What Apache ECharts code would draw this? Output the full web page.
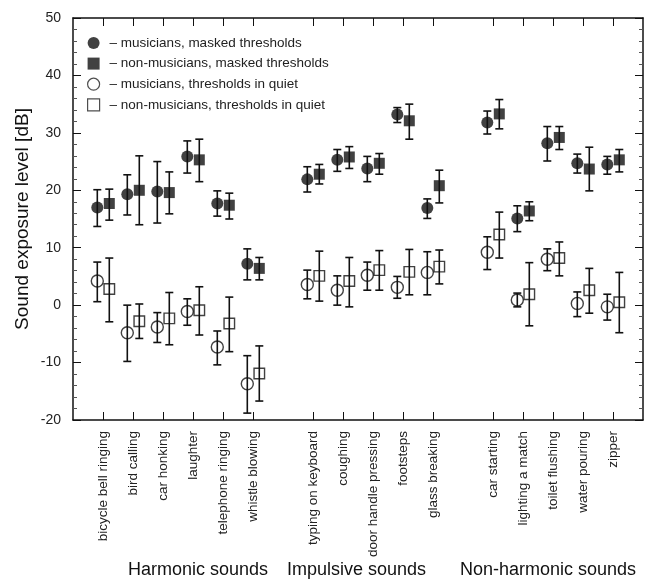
<!DOCTYPE html>
<html>
<head>
<meta charset="utf-8">
<script src="https://cdn.jsdelivr.net/npm/echarts@6/dist/echarts.min.js"></script>
<style>
  html, body { margin: 0; padding: 0; background: #fff; }
  #chart { width: 650px; height: 580px; }
</style>
</head>
<body>
<div id="chart"></div>
<script>
// sound categories, grouped
var groups = ['Harmonic sounds', 'Impulsive sounds', 'Non-harmonic sounds']
var groupSizes = [6, 5, 5]
var categories = [
  'bicycle bell ringing', 'bird calling', 'car honking', 'laughter', 'telephone ringing', 'whistle blowing',
  'typing on keyboard', 'coughing', 'door handle pressing', 'footsteps', 'glass breaking',
  'car starting', 'lighting a match', 'toilet flushing', 'water pouring', 'zipper'
]
var yTicks = [-20, -10, 0, 10, 20, 30, 40, 50]

// [mean, lower, upper] in dB
var musMasked = [
  [17.0, 13.7, 20.1], [19.3, 15.7, 22.7], [19.8, 14.3, 25.0], [25.9, 23.0, 28.6], [17.7, 15.5, 19.9], [7.2, 4.4, 9.8],
  [21.9, 19.7, 24.1], [25.3, 23.3, 27.1], [23.8, 21.5, 25.9], [33.2, 31.8, 34.4], [16.9, 15.1, 18.5],
  [31.8, 29.8, 33.8], [15.1, 12.8, 17.3], [28.2, 25.1, 31.1], [24.7, 23.0, 26.3], [24.5, 22.8, 25.9]
]
var nonMasked = [
  [17.7, 14.8, 20.2], [20.0, 14.0, 26.0], [19.6, 15.9, 23.2], [25.3, 21.5, 28.9], [17.4, 15.0, 19.5], [6.4, 4.4, 8.3],
  [22.8, 21.1, 24.5], [25.8, 23.8, 27.6], [24.7, 22.8, 26.4], [32.1, 28.9, 35.0], [20.8, 17.8, 23.5],
  [33.3, 30.7, 35.8], [16.4, 14.7, 18.0], [29.2, 27.1, 31.1], [23.7, 19.9, 27.5], [25.3, 23.2, 27.1]
]
var musQuiet = [
  [4.2, 0.6, 7.5], [-4.8, -9.8, 0.0], [-3.8, -6.5, -1.3], [-1.1, -3.5, 1.1], [-7.3, -10.4, -4.5], [-13.7, -18.8, -8.8],
  [3.6, 1.1, 6.1], [2.6, 0.0, 5.1], [5.2, 2.6, 7.5], [3.1, 1.2, 5.0], [5.7, 1.8, 9.3],
  [9.2, 6.2, 11.9], [0.9, -0.3, 2.1], [8.0, 6.0, 9.8], [0.3, -2.0, 2.3], [-0.3, -2.6, 1.9]
]
var nonQuiet = [
  [2.8, -2.9, 8.2], [-2.8, -5.8, 0.2], [-2.3, -6.9, 2.2], [-0.9, -5.2, 3.2], [-3.2, -8.1, 1.4], [-11.9, -16.7, -7.1],
  [5.1, 0.7, 9.4], [4.2, -0.3, 8.3], [6.1, 2.6, 9.5], [5.8, 1.8, 9.7], [6.7, 3.7, 9.6],
  [12.3, 8.2, 16.2], [1.9, -3.6, 7.4], [8.2, 5.1, 11.0], [2.6, -1.4, 6.4], [0.5, -4.8, 5.7]
]

// slot on the x axis: one empty slot between groups
var positions = []
var slot = 1
groupSizes.forEach(function(n) {
  for (var i = 0; i < n; i++) positions.push(slot++)
  slot++
})
var xMax = slot - 1

var font = 'Liberation Sans, Arial, sans-serif'
var ink = '#111'

function points(arr, shift) {
  return arr.map(function(d, i) { return [positions[i] + shift, d[0]] })
}
function bars(arr, shift) {
  return arr.map(function(d, i) { return [positions[i] + shift, d[1], d[2]] })
}

function errorSeries(name, arr, shift) {
  return {
    name: name,
    type: 'custom',
    z: 2,
    data: bars(arr, shift),
    encode: { x: 0, y: [1, 2] },
    renderItem: function(params, api) {
      var lo = api.coord([api.value(0), api.value(1)])
      var hi = api.coord([api.value(0), api.value(2)])
      var w = 4
      var st = { stroke: ink, lineWidth: 1.6 }
      return {
        type: 'group',
        children: [
          { type: 'line', shape: { x1: lo[0], y1: lo[1], x2: hi[0], y2: hi[1] }, style: st },
          { type: 'line', shape: { x1: lo[0] - w, y1: lo[1], x2: lo[0] + w, y2: lo[1] }, style: st },
          { type: 'line', shape: { x1: hi[0] - w, y1: hi[1], x2: hi[0] + w, y2: hi[1] }, style: st }
        ]
      }
    }
  }
}

var filled = { color: ink }
var open = { color: 'rgba(0,0,0,0)', borderColor: ink, borderWidth: 1.4 }
var names = [
  'musicians, masked thresholds',
  'non-musicians, masked thresholds',
  'musicians, thresholds in quiet',
  'non-musicians, thresholds in quiet'
]

function markSeries(name, arr, shift, symbol, size, style) {
  return {
    name: name,
    type: 'scatter',
    z: 3,
    symbol: symbol,
    symbolSize: size,
    itemStyle: style,
    data: points(arr, shift)
  }
}

var chart = echarts.init(document.getElementById('chart'))
var tickLine = { color: ink, width: 1 }
var frame = { onZero: false, lineStyle: { color: ink, width: 1.5 } }
var minor = { show: true, splitNumber: 5, length: 4, lineStyle: { color: '#555', width: 1 } }

chart.setOption({
  animation: false,
  textStyle: { fontFamily: font },
  grid: { left: 73, right: 7, top: 18, bottom: 160, outerBoundsMode: 'none' },
  legend: {
    orient: 'vertical',
    left: 87,
    top: 36,
    padding: 0,
    itemWidth: 12,
    itemHeight: 12,
    itemGap: 6.6,
    selectedMode: false,
    formatter: function(n) { return '\u2013 ' + n },
    textStyle: { fontSize: 13.5, color: '#222', padding: [0, 0, 0, 5] },
    data: [
      { name: names[0], icon: 'circle', itemStyle: filled },
      { name: names[1], icon: 'rect', itemStyle: filled },
      { name: names[2], icon: 'circle', itemStyle: { color: 'rgba(0,0,0,0)', borderColor: '#222', borderWidth: 1.2 } },
      { name: names[3], icon: 'rect', itemStyle: { color: 'rgba(0,0,0,0)', borderColor: '#222', borderWidth: 1.2 } }
    ]
  },
  xAxis: [
    {
      type: 'value', position: 'bottom', min: 0, max: xMax,
      splitLine: { show: false },
      axisLine: frame,
      axisTick: { inside: true, length: 8, customValues: positions, lineStyle: tickLine },
      axisLabel: {
        customValues: positions,
        rotate: 90,
        margin: 11,
        fontSize: 13.5,
        color: '#222',
        formatter: function(v) { return categories[positions.indexOf(Math.round(v))] || '' }
      }
    },
    {
      type: 'value', position: 'top', min: 0, max: xMax,
      splitLine: { show: false },
      axisLine: frame,
      axisTick: { inside: true, length: 8, customValues: positions, lineStyle: tickLine },
      axisLabel: { show: false }
    }
  ],
  yAxis: [
    {
      type: 'value', position: 'left', min: yTicks[0], max: yTicks[yTicks.length - 1], interval: 10,
      name: 'Sound exposure level [dB]',
      nameLocation: 'middle',
      nameGap: 41,
      nameMoveOverlap: false,
      nameTextStyle: { fontSize: 19, color: '#111' },
      splitLine: { show: false },
      axisLine: { show: true, onZero: false, lineStyle: frame.lineStyle },
      axisTick: { inside: true, length: 8, lineStyle: tickLine },
      minorTick: minor,
      axisLabel: { fontSize: 14, color: '#222', margin: 12 }
    },
    {
      type: 'value', position: 'right', min: yTicks[0], max: yTicks[yTicks.length - 1], interval: 10,
      splitLine: { show: false },
      axisLine: { show: true, onZero: false, lineStyle: frame.lineStyle },
      axisTick: { inside: true, length: 8, lineStyle: tickLine },
      minorTick: minor,
      axisLabel: { show: false }
    }
  ],
  graphic: [
    { type: 'text', left: 128, top: 561, style: { text: groups[0], font: '18px Liberation Sans', fill: '#111' } },
    { type: 'text', left: 287, top: 561, style: { text: groups[1], font: '18px Liberation Sans', fill: '#111' } },
    { type: 'text', left: 460, top: 561, style: { text: groups[2], font: '18px Liberation Sans', fill: '#111' } }
  ],
  series: [
    errorSeries('err0', musMasked, -0.19),
    errorSeries('err1', nonMasked, 0.21),
    errorSeries('err2', musQuiet, -0.19),
    errorSeries('err3', nonQuiet, 0.21),
    markSeries(names[0], musMasked, -0.19, 'circle', 12, filled),
    markSeries(names[1], nonMasked, 0.21, 'rect', 11, filled),
    markSeries(names[2], musQuiet, -0.19, 'circle', 12, open),
    markSeries(names[3], nonQuiet, 0.21, 'rect', 10.5, open)
  ]
})
</script>
</body>
</html>
